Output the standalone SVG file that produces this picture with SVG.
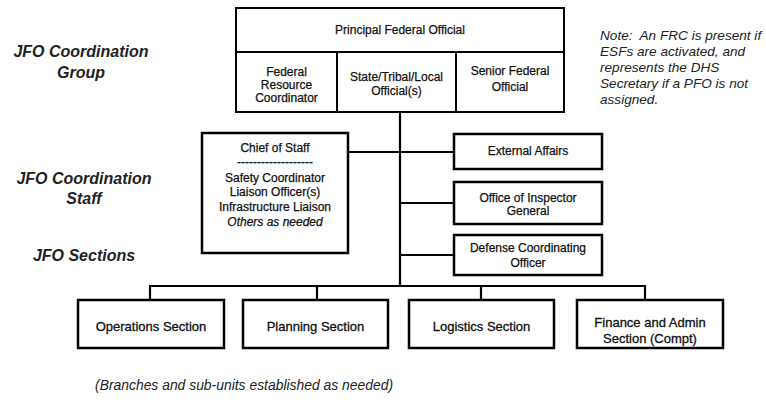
<svg xmlns="http://www.w3.org/2000/svg" width="766" height="406" viewBox="0 0 766 406">
<style>
.box{fill:#fff;stroke:#000;stroke-width:2.5}
.cell{fill:#fff;stroke:#000;stroke-width:2}
.ln{fill:none;stroke:#000;stroke-width:2.2}
text{font-family:"Liberation Sans",Arial,sans-serif;fill:#111;text-anchor:middle}
.t12{font-size:12px;stroke:#111;stroke-width:0.25}
.t13{font-size:13px;stroke:#111;stroke-width:0.3}
.lbl{font-size:16px;font-weight:bold;font-style:italic;fill:#222}
.note{font-size:13.6px;font-style:italic;text-anchor:start;fill:#222}
</style>
<rect width="766" height="406" fill="#fff"/>
<g id="left-labels">
<text class="lbl" x="81" y="57">JFO Coordination</text>
<text class="lbl" x="81" y="78">Group</text>
<text class="lbl" x="84" y="184">JFO Coordination</text>
<text class="lbl" x="84" y="204">Staff</text>
<text class="lbl" x="84" y="261">JFO Sections</text>
</g>
<g id="connectors">
<line class="ln" x1="400" y1="112" x2="400" y2="286"/>
<line class="ln" x1="348" y1="152" x2="454" y2="152"/>
<line class="ln" x1="400" y1="203" x2="454" y2="203"/>
<line class="ln" x1="400" y1="255" x2="454" y2="255"/>
<polyline class="ln" points="150,300 150,286 645,286 645,300" stroke-width="2.5"/>
<line class="ln" x1="317" y1="286" x2="317" y2="300"/>
<line class="ln" x1="481" y1="286" x2="481" y2="300"/>
</g>
<g id="pfo">
<rect class="cell" x="236" y="8" width="328" height="44"/>
<text class="t12" x="400" y="34">Principal Federal Official</text>
</g>
<g id="frc">
<rect class="cell" x="236" y="52" width="101" height="60"/>
<text class="t12" x="286.5" y="76">Federal</text>
<text class="t12" x="286.5" y="89">Resource</text>
<text class="t12" x="286.5" y="102">Coordinator</text>
</g>
<g id="stl">
<rect class="cell" x="337" y="52" width="119" height="60"/>
<text class="t12" x="396.5" y="81">State/Tribal/Local</text>
<text class="t12" x="396.5" y="95">Official(s)</text>
</g>
<g id="sfo">
<rect class="cell" x="456" y="52" width="108" height="60"/>
<text class="t12" x="510" y="75">Senior Federal</text>
<text class="t12" x="510" y="91">Official</text>
</g>
<g id="note">
<text class="note" x="600" y="40">Note:&#160; An FRC is present if</text>
<text class="note" x="600" y="56">ESFs are activated, and</text>
<text class="note" x="600" y="72">represents the DHS</text>
<text class="note" x="600" y="88">Secretary if a PFO is not</text>
<text class="note" x="600" y="104">assigned.</text>
</g>
<g id="chief-of-staff">
<rect class="box" x="202" y="133" width="146" height="120"/>
<text class="t12" x="275" y="152">Chief of Staff</text>
<text class="t12" x="275" y="166">-------------------</text>
<text class="t12" x="275" y="182">Safety Coordinator</text>
<text class="t12" x="275" y="196">Liaison Officer(s)</text>
<text class="t12" x="275" y="211">Infrastructure Liaison</text>
<text class="t12" x="275" y="226" font-style="italic">Others as needed</text>
</g>
<g id="external-affairs">
<rect class="box" x="454" y="134" width="148" height="35"/>
<text class="t12" x="528" y="155">External Affairs</text>
</g>
<g id="oig">
<rect class="box" x="454" y="182" width="148" height="42"/>
<text class="t12" x="528" y="202">Office of Inspector</text>
<text class="t12" x="528" y="215">General</text>
</g>
<g id="dco">
<rect class="box" x="454" y="235" width="148" height="40"/>
<text class="t12" x="528" y="252">Defense Coordinating</text>
<text class="t12" x="528" y="267">Officer</text>
</g>
<g id="operations">
<rect class="box" x="78" y="300" width="146" height="48"/>
<text class="t13" x="151" y="331">Operations Section</text>
</g>
<g id="planning">
<rect class="box" x="243" y="300" width="145" height="48"/>
<text class="t13" x="315.5" y="331">Planning Section</text>
</g>
<g id="logistics">
<rect class="box" x="409" y="300" width="145" height="48"/>
<text class="t13" x="481.5" y="331">Logistics Section</text>
</g>
<g id="finance">
<rect class="box" x="577" y="300" width="146" height="48"/>
<text class="t13" x="650" y="327">Finance and Admin</text>
<text class="t13" x="650" y="343">Section (Compt)</text>
</g>
<g id="footnote">
<text class="note" x="95" y="390" style="font-size:13.9px">(Branches and sub-units established as needed)</text>
</g>
</svg>
